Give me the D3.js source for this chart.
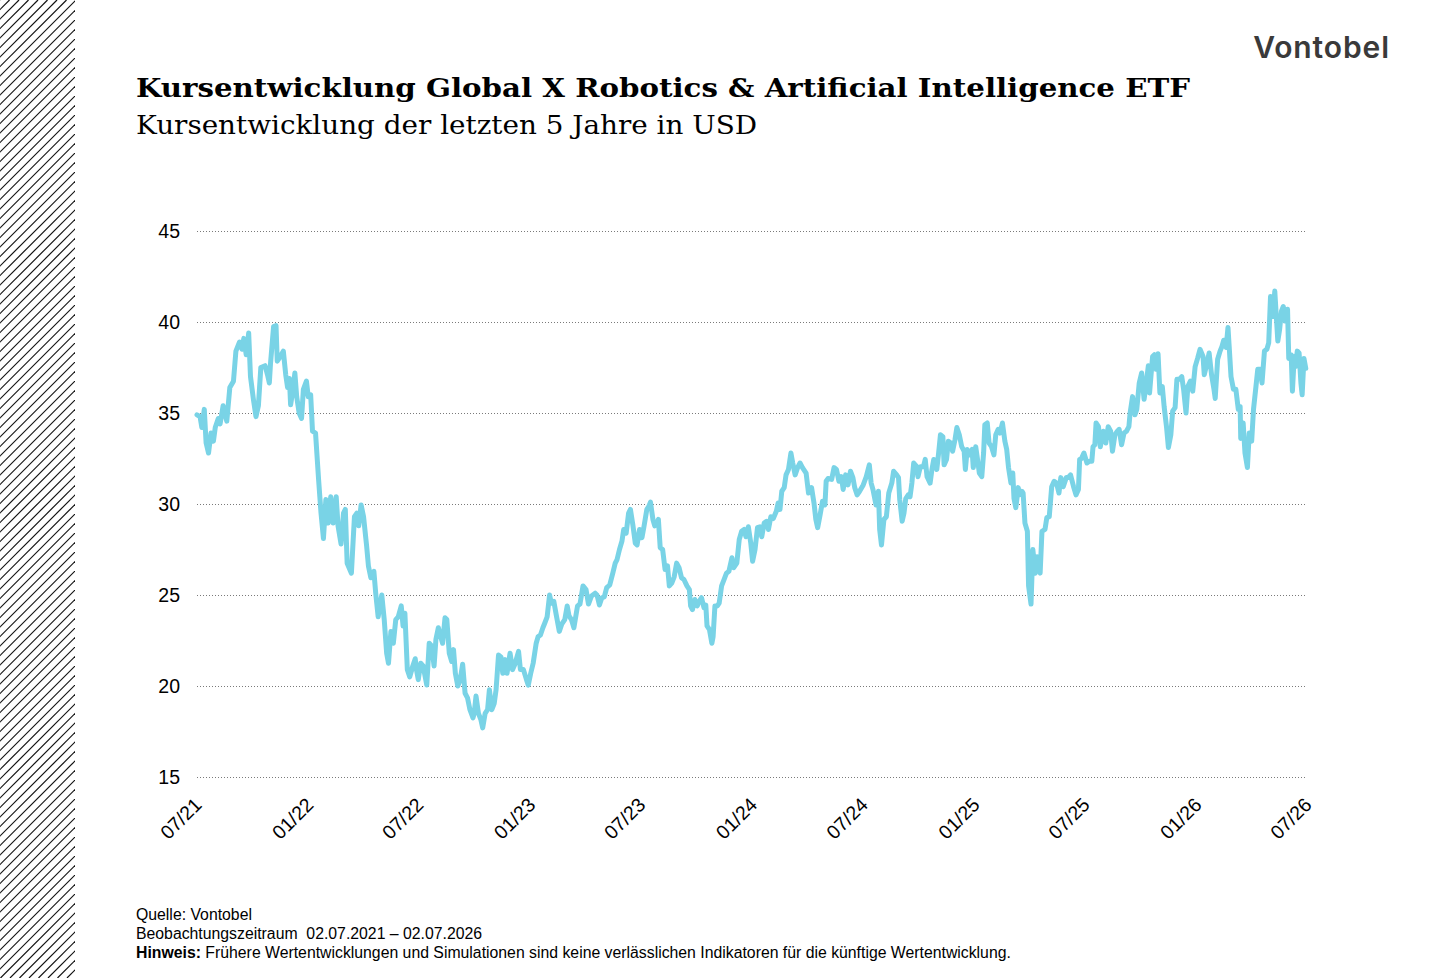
<!DOCTYPE html>
<html><head><meta charset="utf-8">
<script src="https://cdn.jsdelivr.net/npm/d3@7/dist/d3.min.js"></script>
<style>body{margin:0;background:#fff} svg{display:block}</style>
</head><body>
<svg id="c" width="1430" height="978"></svg>
<script>
// ---- data ----
const startDate = "2021-07-02";
const endDate = "2026-07-02";
// trading-day offsets (calendar days since startDate)
const dayOffsets = [0,5,8,12,15,19,23,27,30,35,38,43,49,54,60,64,70,74,77,81,85,88,93,97,101,105,112,116,119,121,126,130,132,137,142,146,149,152,154,157,161,164,168,172,175,180,183,187,190,195,200,204,208,212,216,220,224,229,232,237,241,244,247,254,259,263,266,270,274,279,282,286,291,294,298,304,308,312,315,319,323,327,331,336,339,342,346,350,355,359,361,364,368,372,378,382,386,390,393,397,401,404,408,411,415,419,422,425,429,433,437,441,445,449,454,456,459,463,467,470,474,478,481,485,489,492,496,500,503,507,510,515,519,523,529,532,537,542,545,549,553,558,561,565,569,572,576,580,583,587,591,596,600,605,609,612,616,620,626,630,635,640,644,649,655,658,662,666,670,674,679,684,688,691,695,699,702,706,710,713,717,721,724,728,732,735,740,743,746,750,753,759,762,766,770,774,777,781,785,789,793,797,801,806,810,812,815,819,823,826,830,834,837,839,843,847,849,852,856,859,863,867,871,875,880,883,888,892,896,900,903,907,911,914,918,922,926,929,933,937,940,944,948,953,956,959,962,966,969,973,977,980,984,988,992,996,1002,1006,1011,1015,1018,1021,1025,1029,1033,1035,1038,1044,1048,1052,1056,1060,1063,1067,1071,1075,1079,1082,1086,1090,1096,1101,1106,1109,1112,1117,1121,1123,1126,1130,1134,1138,1143,1146,1151,1154,1156,1160,1163,1166,1170,1173,1176,1179,1184,1186,1190,1195,1198,1201,1206,1209,1212,1217,1220,1223,1227,1229,1233,1236,1240,1243,1247,1250,1254,1258,1262,1264,1267,1271,1275,1277,1281,1284,1287,1291,1294,1296,1300,1303,1307,1311,1314,1318,1321,1325,1329,1332,1335,1339,1342,1344,1347,1351,1353,1357,1359,1362,1366,1368,1372,1375,1379,1382,1387,1390,1395,1398,1402,1406,1410,1414,1418,1421,1425,1430,1433,1437,1442,1446,1450,1452,1455,1459,1464,1468,1472,1474,1477,1479,1483,1486,1491,1495,1499,1503,1506,1510,1514,1517,1521,1525,1529,1533,1535,1539,1543,1546,1550,1554,1558,1562,1565,1567,1572,1575,1578,1581,1584,1588,1591,1595,1598,1602,1605,1609,1612,1616,1620,1623,1627,1630,1634,1638,1642,1646,1650,1655,1657,1661,1665,1669,1673,1675,1679,1683,1686,1689,1693,1696,1698,1701,1705,1709,1713,1716,1717,1721,1724,1728,1731,1735,1738,1742,1745,1749,1752,1756,1760,1763,1766,1770,1773,1776,1778,1781,1784,1787,1790,1794,1796,1800,1802,1805,1807,1810,1813,1816,1818,1821,1824];
const prices = [34.9,34.8,34.2,35.2,33.35,32.8,33.9,33.45,34.2,34.7,34.4,35.4,34.55,36.4,36.75,38.4,38.9,38.5,39.1,38.2,39.4,37.0,35.7,34.8,35.4,37.5,37.6,37.1,36.65,37.75,39.75,39.8,37.85,38.1,38.4,37.1,36.4,36.9,35.45,36.1,37.2,35.9,35.0,34.7,36.3,36.75,35.9,36.0,34.0,33.9,31.35,29.5,28.1,30.25,28.95,30.4,28.95,30.4,28.8,27.8,29.5,29.7,26.75,26.2,29.3,29.5,28.8,29.95,29.3,27.7,26.6,25.95,26.3,25.1,23.8,25.0,23.65,21.8,21.25,23.0,22.35,23.65,23.8,24.4,23.3,24.0,20.9,20.5,21.1,21.5,20.9,20.35,21.25,21.1,20.05,22.35,22.2,21.1,22.55,23.2,22.7,22.35,23.75,23.65,21.8,21.35,22.0,20.7,20.0,20.35,21.2,19.6,19.35,18.7,18.25,18.5,19.45,18.5,18.15,17.7,18.5,18.7,19.8,18.7,19.05,19.8,21.7,21.6,20.7,21.45,20.7,21.8,20.9,21.2,21.9,20.9,20.9,20.35,20.05,20.7,21.25,22.35,22.7,22.8,23.2,23.45,23.8,25.0,24.55,24.65,23.9,23.0,23.4,23.65,24.4,23.85,23.65,23.2,24.4,24.5,25.5,25.3,24.5,24.95,25.1,25.0,24.45,24.85,24.9,25.4,25.55,26.2,26.75,26.95,27.5,27.95,28.6,28.4,29.5,29.7,28.85,27.85,27.75,28.6,28.15,28.7,29.7,29.85,30.1,29.15,28.8,29.15,27.6,27.5,26.4,26.6,25.5,25.65,26.0,26.75,26.5,25.95,25.85,25.5,25.3,24.4,24.2,24.75,24.4,24.65,24.85,24.3,24.45,23.3,23.1,22.35,22.7,24.4,24.4,24.55,25.5,25.85,26.2,26.3,27.05,26.5,26.75,28.05,28.5,28.6,28.2,28.75,27.85,26.85,27.5,28.7,28.75,28.2,28.95,29.05,28.6,29.3,29.2,29.6,30.05,29.7,30.7,30.9,31.6,31.9,32.8,32.25,31.6,32.0,32.25,32.0,31.7,30.6,30.9,30.05,29.15,28.7,29.4,30.15,29.95,31.25,31.4,31.35,32.0,31.9,31.25,31.5,30.8,31.6,31.05,31.8,31.45,30.9,30.5,30.7,31.05,31.5,32.15,31.15,30.8,29.95,30.7,28.6,27.75,29.15,29.3,30.6,31.15,31.8,31.6,31.45,30.25,29.05,29.5,30.3,30.5,30.4,31.15,32.25,32.05,31.5,32.05,32.05,32.45,31.5,31.15,31.9,32.45,31.9,32.8,33.8,33.7,32.15,32.45,33.45,33.35,32.9,33.55,34.2,33.8,33.15,32.9,31.9,33.0,32.7,33.0,32.0,33.15,32.45,31.7,31.5,32.8,34.35,34.45,33.35,33.15,32.7,33.8,34.1,33.9,34.45,33.45,33.0,32.0,31.15,31.7,30.3,29.8,30.9,30.5,30.7,30.6,28.95,28.5,25.5,24.5,27.5,26.2,27.1,26.2,28.5,28.6,29.25,29.3,30.95,31.25,31.15,30.6,31.45,30.95,31.45,31.45,31.6,30.95,30.5,30.8,32.45,32.5,32.8,32.25,32.35,32.35,33.15,33.25,34.45,34.25,33.15,34.0,33.35,34.25,34.0,32.9,33.8,34.0,34.1,33.25,33.9,34.0,34.25,35.0,35.9,34.9,35.2,36.65,37.2,35.75,36.75,37.6,36.1,38.1,38.2,37.4,38.25,36.1,36.45,35.35,34.2,33.1,33.8,35.1,35.3,36.85,36.85,37.0,36.3,35.0,36.45,36.75,36.2,37.55,38.0,38.5,38.1,37.1,37.65,38.3,37.1,36.3,35.8,37.95,38.4,38.65,39.0,38.6,39.7,38.65,37.0,36.3,36.3,35.2,35.35,33.6,34.45,32.8,32.0,33.9,33.45,35.2,36.45,37.4,37.4,36.65,38.4,38.5,38.85,41.4,40.3,41.7,40.05,38.95,39.6,40.6,40.85,40.05,40.7,38.0,38.2,36.2,38.1,37.55,38.4,38.3,36.65,36.0,38.0,37.45];
const yTicks = [15, 20, 25, 30, 35, 40, 45];
const xTickDates = ["2021-07-01","2022-01-01","2022-07-01","2023-01-01","2023-07-01","2024-01-01","2024-07-01","2025-01-01","2025-07-01","2026-01-01","2026-07-01"];
const titleText = "Kursentwicklung Global X Robotics & Artificial Intelligence ETF";
const subtitleText = "Kursentwicklung der letzten 5 Jahre in USD";
const brandText = "Vontobel";
const footerLines = [
  {bold: "", text: "Quelle: Vontobel"},
  {bold: "", text: "Beobachtungszeitraum\u00a0\u00a002.07.2021 \u2013 02.07.2026"},
  {bold: "Hinweis:", text: " Frühere Wertentwicklungen und Simulationen sind keine verlässlichen Indikatoren für die künftige Wertentwicklung."}
];

// ---- chart ----
const svg = d3.select("#c");
const W = 1430, H = 978;
const parse = d3.timeParse("%Y-%m-%d");
const t0 = parse(startDate), t1 = parse(endDate);
const series = dayOffsets.map((d, i) => ({date: d3.timeDay.offset(t0, d), value: prices[i]}));

const x = d3.scaleTime().domain([t0, t1]).range([197, 1307]);
const y = d3.scaleLinear().domain([15, 45]).range([777, 231]);

// hatched stripe on the left
const defs = svg.append("defs");
defs.append("clipPath").attr("id", "stripeClip")
  .append("rect").attr("x", 0).attr("y", 0).attr("width", 75).attr("height", H);
const hatch = svg.append("g").attr("clip-path", "url(#stripeClip)");
const step = 9.5;
d3.range(-2, Math.ceil((H + 80) / step)).forEach(i => {
  hatch.append("line")
    .attr("x1", i * step).attr("y1", 0)
    .attr("x2", i * step - H).attr("y2", H)
    .attr("stroke", "#111").attr("stroke-width", 1.2);
});

// title & subtitle
svg.append("text").attr("x", 136).attr("y", 97)
  .attr("font-family", "'DejaVu Serif', 'Liberation Serif', serif")
  .attr("font-weight", "bold").attr("font-size", 26).attr("fill", "#000")
  .attr("textLength", 1054).attr("lengthAdjust", "spacingAndGlyphs")
  .text(titleText);
svg.append("text").attr("x", 136).attr("y", 134)
  .attr("font-family", "'DejaVu Serif', 'Liberation Serif', serif")
  .attr("font-size", 26).attr("fill", "#000")
  .attr("textLength", 621).attr("lengthAdjust", "spacingAndGlyphs")
  .text(subtitleText);

// brand
svg.append("text").attr("x", 1390).attr("y", 58).attr("text-anchor", "end")
  .attr("font-family", "Inter, 'Noto Sans', sans-serif").attr("font-weight", 600)
  .attr("font-size", 30).attr("letter-spacing", 0.9).attr("fill", "#3a3a3a")
  .text(brandText);

// grid lines + y labels
const yAxis = d3.axisLeft(y).tickValues(yTicks).tickSize(-(1307 - 197)).tickPadding(17);
const gy = svg.append("g").attr("transform", "translate(197,0)").call(yAxis);
gy.select(".domain").remove();
gy.selectAll(".tick line").attr("stroke", "#7a7a7a").attr("stroke-width", 1).attr("stroke-dasharray", "1,2");
gy.selectAll(".tick text").attr("font-family", "Arial, 'Liberation Sans', sans-serif")
  .attr("font-size", 19.5).attr("fill", "#000");

// x labels (rotated)
const xAxis = d3.axisBottom(x).tickValues(xTickDates.map(parse)).tickFormat(d3.timeFormat("%m/%y")).tickSize(0);
const gx = svg.append("g").attr("transform", "translate(0,777)").call(xAxis);
gx.select(".domain").remove();
gx.selectAll(".tick text")
  .attr("font-family", "Arial, 'Liberation Sans', sans-serif").attr("font-size", 19.5).attr("fill", "#000")
  .attr("text-anchor", "end").attr("dy", 0).attr("y", 0)
  .attr("transform", "translate(6,29) rotate(-45)");

// line
const line = d3.line().x(d => x(d.date)).y(d => y(d.value));
svg.append("path").datum(series)
  .attr("d", line).attr("fill", "none")
  .attr("stroke", "#79d3e6").attr("stroke-width", 5)
  .attr("stroke-linejoin", "round").attr("stroke-linecap", "round");

// footer
const fy = [920, 939, 958];
footerLines.forEach((l, i) => {
  const t = svg.append("text").attr("x", 136).attr("y", fy[i])
    .attr("font-family", "Arial, 'Liberation Sans', sans-serif").attr("font-size", 15.8).attr("fill", "#000");
  if (l.bold) t.append("tspan").attr("font-weight", "bold").text(l.bold);
  t.append("tspan").text(l.text);
});
</script>
</body></html>
